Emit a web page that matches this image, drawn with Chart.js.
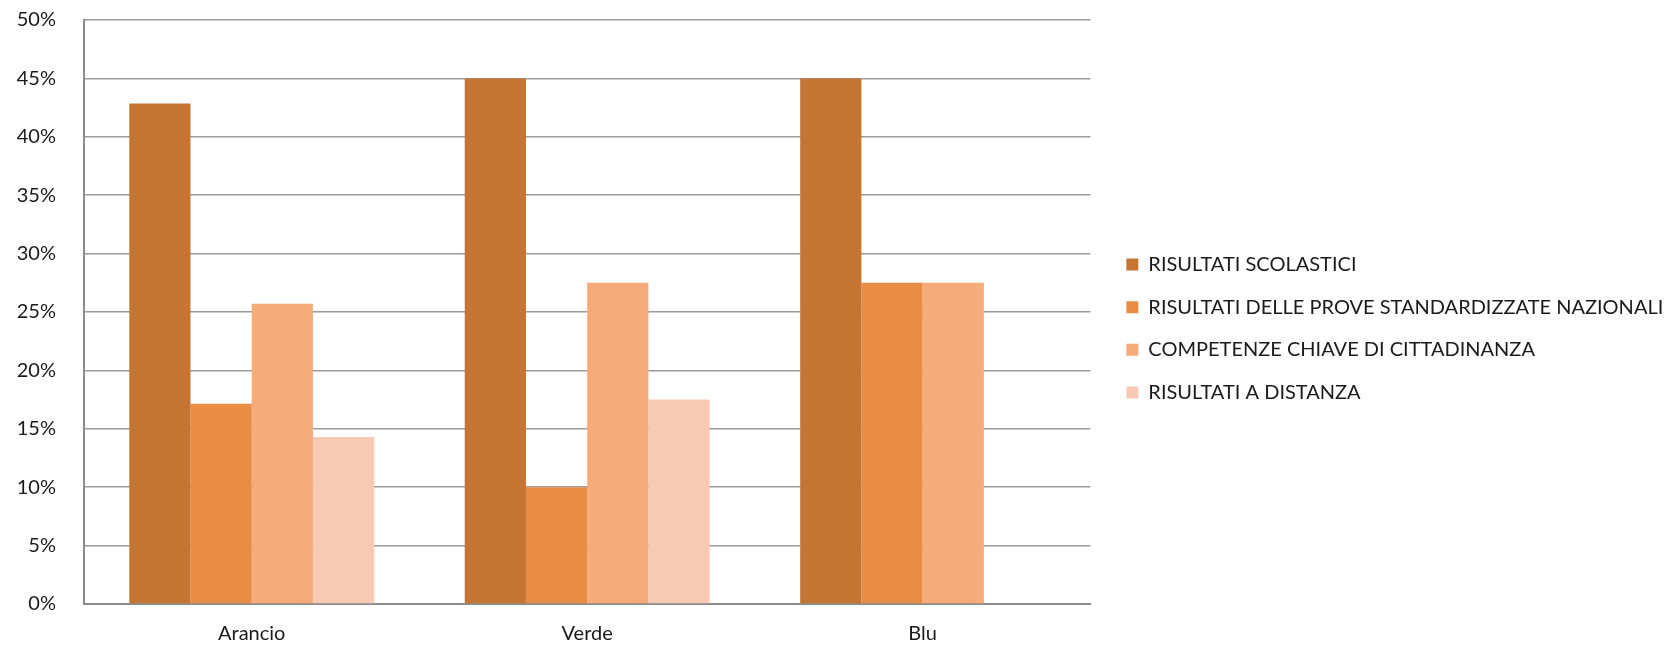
<!DOCTYPE html>
<html>
<head>
<meta charset="utf-8">
<script src="https://cdn.jsdelivr.net/npm/chart.js@4.4.0/dist/chart.umd.min.js"></script>
<style>
  html, body { margin: 0; padding: 0; background: #fff; }
  #wrap { width: 1672px; height: 649px; }
</style>
</head>
<body>
<div id="wrap"><canvas id="chart"></canvas></div>
<script>
const categories = ['Arancio', 'Verde', 'Blu'];
const seriesNames = [
  'RISULTATI SCOLASTICI',
  'RISULTATI DELLE PROVE STANDARDIZZATE NAZIONALI',
  'COMPETENZE CHIAVE DI CITTADINANZA',
  'RISULTATI A DISTANZA'
];
const scolastici = [42.86, 45, 45];
const proveNazionali = [17.14, 10, 27.5];
const competenze = [25.71, 27.5, 27.5];
const aDistanza = [14.29, 17.5, 0];
const colors = ['#C47534', '#E88D43', '#F7AA7A', '#F8CAB3'];

const font = { family: 'Lato', size: 20 };
const legendPad = 22.7;

// keep a wider gap between plot and legend, nudge legend up a little,
// and let it run to the canvas edge so the long label isn't clipped
const legendGap = {
  id: 'legendGap',
  afterLayout(chart) {
    const lg = chart.legend;
    lg.left = chart.chartArea.right + 36 - legendPad;
    lg.right = chart.width;
    lg.width = lg.right - lg.left;
    lg.top -= 6;
    lg.bottom -= 6;
  }
};

const ctx = document.getElementById('chart');
new Chart(ctx, {
  type: 'bar',
  data: {
    labels: categories,
    datasets: [scolastici, proveNazionali, competenze, aDistanza].map((d, i) => ({
      label: seriesNames[i],
      data: d,
      backgroundColor: colors[i],
      borderWidth: 0,
      categoryPercentage: 0.73,
      barPercentage: 1.0
    }))
  },
  options: {
    responsive: true,
    maintainAspectRatio: false,
    animation: false,
    layout: { padding: { top: 20, right: 12, bottom: 0, left: 0 } },
    plugins: {
      tooltip: { enabled: false },
      legend: {
        position: 'right',
        maxWidth: 582,
        labels: {
          font: font,
          color: '#1a1a1a',
          boxWidth: 12,
          boxHeight: 12,
          padding: legendPad
        }
      }
    },
    scales: {
      x: {
        grid: { display: false, drawTicks: false },
        border: { display: true, color: '#8c8c8c', width: 2 },
        ticks: { font: font, color: '#1a1a1a', padding: 18 },
        afterFit(s) { s.height = 45; }
      },
      y: {
        min: 0,
        max: 50,
        ticks: {
          stepSize: 5,
          font: font,
          color: '#1a1a1a',
          padding: 28,
          callback: v => v + '%'
        },
        grid: { color: '#9a9a9a', lineWidth: 1.5, drawTicks: false },
        border: { display: true, color: '#8c8c8c', width: 2 },
        afterFit(s) {
          s.width = 84;
          s.paddingTop = 0;
          s.paddingBottom = 0;
        }
      }
    }
  },
  plugins: [legendGap]
});
</script>
</body>
</html>
